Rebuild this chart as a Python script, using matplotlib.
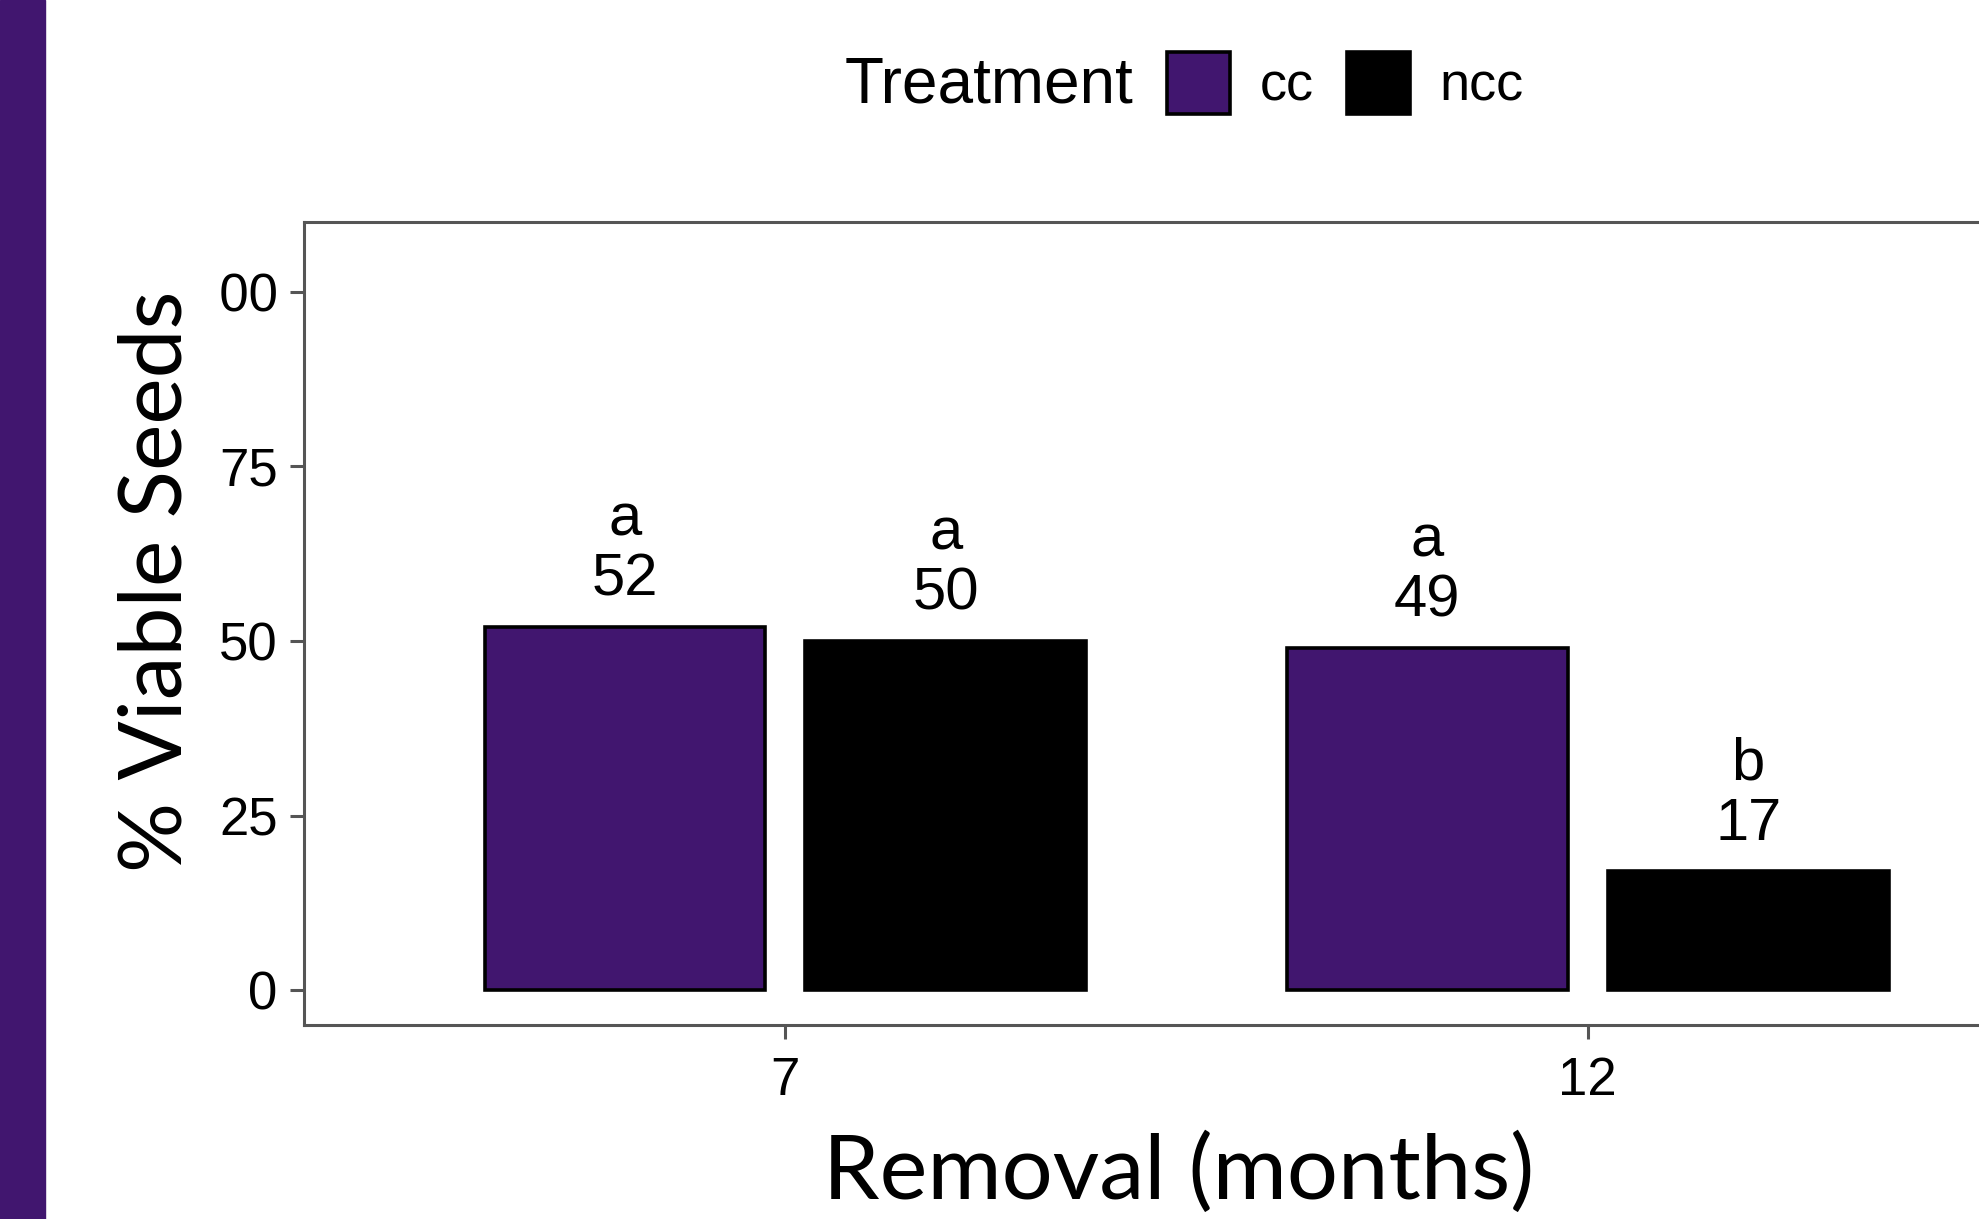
import numpy as np
import matplotlib.pyplot as plt
from matplotlib.patches import Rectangle

# data
months = ['7', '12']
treatments = ['cc', 'ncc']
cc_vals = [52, 49]
ncc_vals = [50, 17]
cc_letters = ['a', 'a']
ncc_letters = ['a', 'b']
yticks = [0, 25, 50, 75, 100]

purple = '#41166f'
colors = [purple, 'black']
axis_gray = '#555555'

plt.rcParams['font.family'] = ['Liberation Sans', 'DejaVu Sans']

fig = plt.figure(figsize=(19.79, 12.19), dpi=100)
ax = fig.add_axes([0.1536, 0.1591, 0.892, 0.6587])

x = np.arange(len(months))
dodge = 0.4
width = 0.35

bars = []
for i, (vals, letters) in enumerate([(cc_vals, cc_letters), (ncc_vals, ncc_letters)]):
    pos = x + (i - 0.5) * dodge
    b = ax.bar(pos, vals, width=width, color=colors[i], edgecolor='black',
               linewidth=2.6, label=treatments[i], zorder=2)
    bars.append(b)
    for px, v, let in zip(pos, vals, letters):
        ax.annotate(f'{let}\n{v}', xy=(px, v), xytext=(0, 14),
                    textcoords='offset points', ha='center', va='bottom',
                    fontsize=43, linespacing=1.12)

ax.set_xlim(-0.6, 1.6)
ax.set_ylim(-5, 110)
ax.set_xticks(x)
ax.set_xticklabels(months)
ax.set_yticks(yticks)
ax.set_yticklabels([str(t) for t in yticks])

for s in ax.spines.values():
    s.set_color(axis_gray)
    s.set_linewidth(2.2)
ax.tick_params(axis='both', colors=axis_gray, width=2.2, length=10,
               labelsize=38, labelcolor='black')
ax.tick_params(axis='y', pad=9)
ax.tick_params(axis='x', pad=12)

# legend on top, title to the left
fig.text(0.5725, 0.930, 'Treatment', fontsize=46, ha='right', va='center')
fig.legend(handles=bars, labels=treatments, ncol=2, loc='center left',
           bbox_to_anchor=(0.5897, 0.932), frameon=False, fontsize=39,
           handlelength=1.17, handleheight=1.4, handletextpad=0.55,
           columnspacing=0.6, borderpad=0, borderaxespad=0)

# slide overlays: axis titles and purple strip
fig.patches.append(Rectangle((0, 0), 45 / 1979, 1, transform=fig.transFigure,
                             color=purple, zorder=3))
# white box of the slide text covering the "1" of the top tick label
fig.patches.append(Rectangle((178 / 1979, 0.735), 38 / 1979, 0.05,
                             transform=fig.transFigure, color='white', zorder=3))
fig.text(0.0795, 0.523, '% Viable Seeds', family='Lato', fontsize=63,
         rotation=90, ha='center', va='center', zorder=4)
fig.text(0.5957, 0.037, 'Removal (months)', family='Lato', fontsize=65,
         ha='center', va='center', zorder=4)

fig.savefig('out.png', dpi=100)
